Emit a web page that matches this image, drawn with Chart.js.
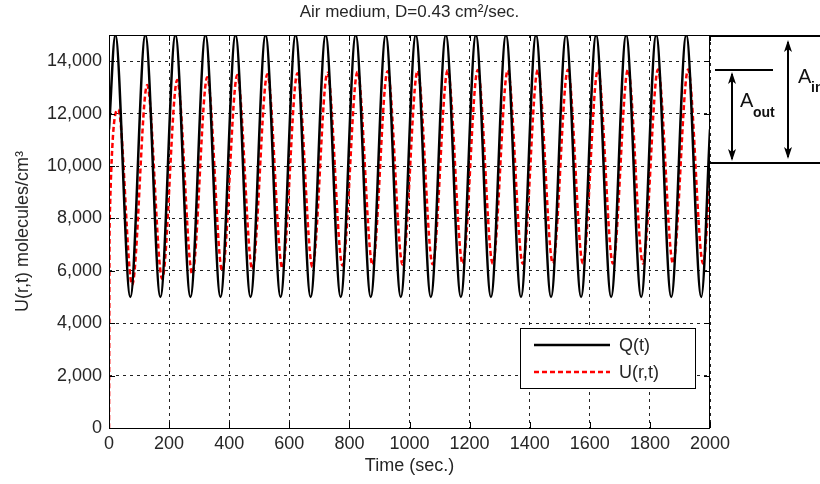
<!DOCTYPE html>
<html>
<head>
<meta charset="utf-8">
<script src="https://cdn.jsdelivr.net/npm/chart.js@4.4.0/dist/chart.umd.min.js"></script>
<style>
  html, body { margin: 0; padding: 0; background: #fff; }
  canvas { display: block; }
</style>
</head>
<body>
<canvas id="chart" width="820" height="484"></canvas>
<script>
const FONT = '"Liberation Sans", Arial, sans-serif';

// Tick positions
const xTickValues = [0, 200, 400, 600, 800, 1000, 1200, 1400, 1600, 1800, 2000];
const yTickValues = [0, 2000, 4000, 6000, 8000, 10000, 12000, 14000];

// Q(t): source signal, peaks and troughs
const qTime = [0, 21, 71, 121, 171, 221, 271, 321, 371, 421, 471, 521, 571, 621, 671, 721, 771, 821, 871, 921, 971,
  1021, 1071, 1121, 1171, 1221, 1271, 1321, 1371, 1421, 1471, 1521, 1571, 1621, 1671, 1721, 1771, 1821, 1871, 1921, 1971, 2000];
const qValue = [11400, 15000, 5000, 15000, 5000, 15000, 5000, 15000, 5000, 15000, 5000, 15000, 5000, 15000, 5000, 15000, 5000,
  15000, 5000, 15000, 5000, 15000, 5000, 15000, 5000, 15000, 5000, 15000, 5000, 15000, 5000, 15000, 5000, 15000, 5000,
  15000, 5000, 15000, 5000, 15000, 5000, 11400];

// U(r,t): response at distance r
const uTime = [0, 2, 31, 77, 127, 177, 227, 277, 327, 377, 427, 477, 527, 577, 627, 677, 727, 777, 827, 877, 927, 977,
  1027, 1077, 1127, 1177, 1227, 1277, 1327, 1377, 1427, 1477, 1527, 1577, 1627, 1677, 1727, 1777, 1827, 1877, 1927, 1977, 2000];
const uValue = [0, 7800, 12150, 5460, 13090, 5700, 13280, 5880, 13390, 5980, 13470, 6050, 13500, 6100, 13540, 6150,
  13560, 6200, 13600, 6220, 13620, 6240, 13640, 6250, 13650, 6260, 13660, 6270, 13660, 6270, 13670, 6280,
  13670, 6280, 13680, 6280, 13680, 6280, 13680, 6280, 13680, 6280, 9500];

// Amplitude markers on the right (values on the y scale)
const ampTop = 15000;
const ampOut = 13660;
const ampBase = 10100;

function arrow(ctx, x, y1, y2) {
  ctx.beginPath();
  ctx.moveTo(x, y1 + 2);
  ctx.lineTo(x, y2 - 2);
  ctx.stroke();
  [[y1, 1], [y2, -1]].forEach(([yy, dir]) => {
    ctx.beginPath();
    ctx.moveTo(x, yy);
    ctx.lineTo(x - 4, yy + dir * 12);
    ctx.lineTo(x, yy + dir * 9);
    ctx.lineTo(x + 4, yy + dir * 12);
    ctx.closePath();
    ctx.fill();
  });
}

const decor = {
  id: 'decor',
  afterDraw(chart) {
    const { ctx, chartArea: a, scales: { x, y } } = chart;
    ctx.save();

    // axes box and inner ticks
    ctx.strokeStyle = '#000';
    ctx.lineWidth = 1;
    ctx.strokeRect(a.left + 0.5, a.top + 0.5, a.right - a.left - 1, a.bottom - a.top);
    ctx.beginPath();
    xTickValues.forEach(v => {
      const px = Math.round(x.getPixelForValue(v)) + 0.5;
      ctx.moveTo(px, a.bottom); ctx.lineTo(px, a.bottom - 6);
      ctx.moveTo(px, a.top); ctx.lineTo(px, a.top + 6);
    });
    yTickValues.forEach(v => {
      const py = Math.round(y.getPixelForValue(v)) + 0.5;
      ctx.moveTo(a.left, py); ctx.lineTo(a.left + 6, py);
      ctx.moveTo(a.right, py); ctx.lineTo(a.right - 6, py);
    });
    ctx.stroke();

    // title
    ctx.fillStyle = '#262626';
    ctx.font = '17px ' + FONT;
    ctx.textAlign = 'center';
    ctx.textBaseline = 'alphabetic';
    ctx.fillText('Air medium, D=0.43 cm\u00b2/sec.', (a.left + a.right) / 2, 17);

    // legend
    const lx = a.right - 190, ly = a.bottom - 100;
    ctx.fillStyle = '#fff';
    ctx.fillRect(lx, ly, 175, 60);
    ctx.strokeStyle = '#000';
    ctx.strokeRect(lx + 0.5, ly + 0.5, 175, 60);
    ctx.font = '18px ' + FONT;
    ctx.textAlign = 'left';
    ctx.textBaseline = 'middle';
    chart.data.datasets.forEach((ds, i) => {
      const yy = ly + 17 + i * 27;
      ctx.strokeStyle = ds.borderColor;
      ctx.lineWidth = ds.borderWidth;
      ctx.setLineDash(ds.borderDash || []);
      ctx.beginPath();
      ctx.moveTo(lx + 14, yy);
      ctx.lineTo(lx + 90, yy);
      ctx.stroke();
      ctx.setLineDash([]);
      ctx.fillStyle = '#262626';
      ctx.fillText(ds.label, lx + 99, yy + 1);
    });

    // amplitude annotation
    const yTop = Math.round(y.getPixelForValue(ampTop));
    const yOut = Math.round(y.getPixelForValue(ampOut));
    const yBase = Math.round(y.getPixelForValue(ampBase));
    ctx.strokeStyle = '#000';
    ctx.fillStyle = '#000';
    ctx.lineWidth = 2;
    ctx.beginPath();
    ctx.moveTo(a.right, yTop + 1); ctx.lineTo(chart.width, yTop + 1);
    ctx.moveTo(a.right, yBase); ctx.lineTo(chart.width, yBase);
    ctx.moveTo(a.right + 5, yOut); ctx.lineTo(a.right + 63, yOut);
    ctx.stroke();
    arrow(ctx, a.right + 22, yOut + 2, yBase - 2);
    arrow(ctx, a.right + 78, yTop + 5, yBase - 4);

    ctx.fillStyle = '#111';
    ctx.textBaseline = 'alphabetic';
    ctx.font = '20px ' + FONT;
    ctx.fillText('A', a.right + 30, yOut + 37);
    ctx.fillText('A', a.right + 88, yTop + 48);
    ctx.font = 'bold 14px ' + FONT;
    ctx.fillText('out', a.right + 43, yOut + 47);
    ctx.fillText('in', a.right + 101, yTop + 57);

    ctx.restore();
  }
};

const chart = new Chart(document.getElementById('chart'), {
  type: 'line',
  data: {
    datasets: [
      {
        label: 'Q(t)',
        data: qTime.map((t, i) => ({ x: t, y: qValue[i] })),
        borderColor: '#000',
        borderWidth: 2.5,
        pointRadius: 0,
        cubicInterpolationMode: 'monotone'
      },
      {
        label: 'U(r,t)',
        data: uTime.map((t, i) => ({ x: t, y: uValue[i] })),
        borderColor: '#ff0000',
        borderWidth: 2.5,
        borderDash: [5, 3],
        pointRadius: 0,
        cubicInterpolationMode: 'monotone'
      }
    ]
  },
  options: {
    responsive: false,
    animation: false,
    devicePixelRatio: 1,
    layout: { padding: { left: 0, right: 110, top: 35, bottom: 0 } },
    plugins: {
      legend: { display: false },
      tooltip: { enabled: false },
      title: { display: false }
    },
    scales: {
      x: {
        type: 'linear',
        min: 0,
        max: 2000,
        afterBuildTicks: s => { s.ticks = xTickValues.map(v => ({ value: v })); },
        afterFit: s => { s.height = 56; },
        ticks: {
          font: { family: FONT, size: 18 },
          color: '#262626',
          padding: 5,
          maxRotation: 0,
          callback: v => String(v)
        },
        grid: { color: '#222', lineWidth: 1, drawTicks: false },
        border: { display: false, dash: [3, 4] },
        title: {
          display: true,
          text: 'Time (sec.)',
          font: { family: FONT, size: 18 },
          color: '#262626',
          padding: { top: 0, bottom: 7 }
        }
      },
      y: {
        type: 'linear',
        min: 0,
        max: 15000,
        afterBuildTicks: s => { s.ticks = yTickValues.map(v => ({ value: v })); },
        afterFit: s => { s.width = 109; },
        ticks: {
          font: { family: FONT, size: 18 },
          color: '#262626',
          padding: 7,
          callback: v => v.toLocaleString('en-US')
        },
        grid: { color: '#222', lineWidth: 1, drawTicks: false },
        border: { display: false, dash: [3, 4] },
        title: {
          display: true,
          text: 'U(r,t) molecules/cm\u00b3',
          font: { family: FONT, size: 18 },
          color: '#262626',
          padding: { top: 12, bottom: 0 }
        }
      }
    }
  },
  plugins: [decor]
});
</script>
</body>
</html>
